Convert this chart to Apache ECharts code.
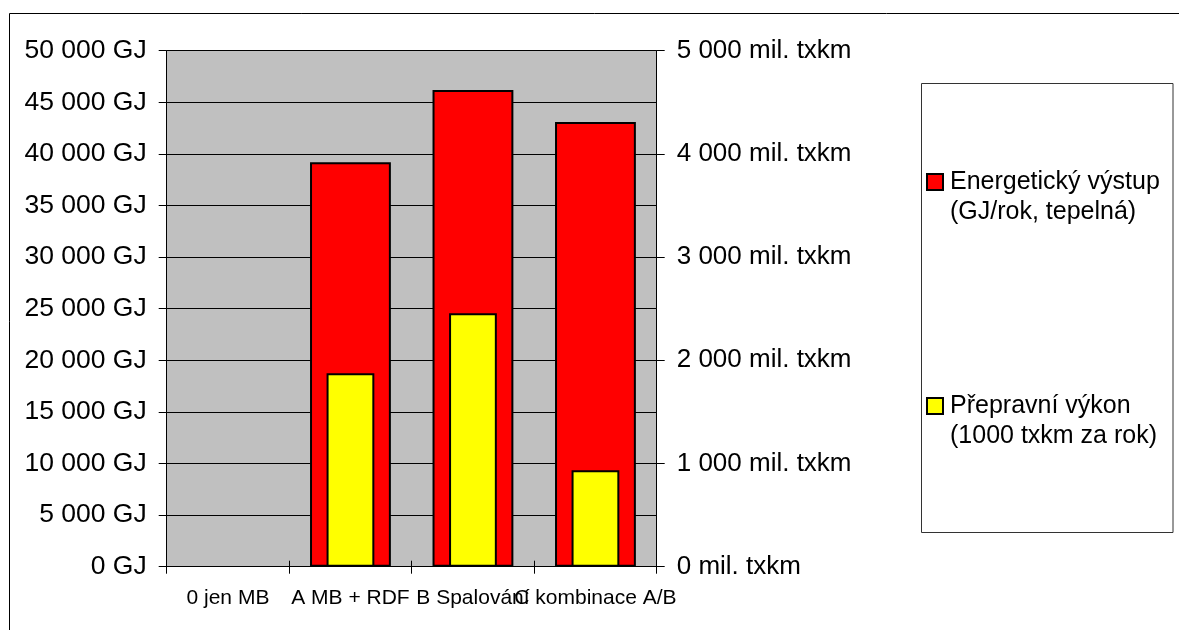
<!DOCTYPE html>
<html>
<head>
<meta charset="utf-8">
<script src="https://cdn.jsdelivr.net/npm/echarts@6/dist/echarts.min.js"></script>
<style>
html,body{margin:0;padding:0;background:#fff;}
#chart{width:1179px;height:630px;}
</style>
</head>
<body>
<div id="chart"></div>
<script>
var categories = ['0 jen MB', 'A MB + RDF', 'B Spalování', 'C kombinace A/B'];
var energyGJ = [null, 39200, 46200, 43100];
var transport = [null, 1875, 2455, 935];
var seriesNames = ['Energetický výstup\n(GJ/rok, tepelná)', 'Přepravní výkon\n(1000 txkm za rok)'];

function sep(v) {
  return String(v).replace(/\B(?=(\d{3})+(?!\d))/g, ' ');
}

var FONT = 'Liberation Sans';
var chart = echarts.init(document.getElementById('chart'), null, {renderer: 'canvas'});

chart.setOption({
  animation: false,
  backgroundColor: '#fff',
  textStyle: {fontFamily: FONT},
  grid: {
    left: 166.7, right: 522.3, top: 50.7, bottom: 63.3,
    show: true, backgroundColor: '#c0c0c0', borderWidth: 0,
    outerBoundsMode: 'none'
  },
  legend: {
    orient: 'vertical',
    left: 926, top: 137,
    padding: 0,
    itemGap: 134,
    itemWidth: 16, itemHeight: 16,
    icon: 'rect',
    selectedMode: false,
    itemStyle: {borderColor: '#000', borderWidth: 2},
    formatter: function (name) { return '\n' + name; },
    textStyle: {fontFamily: FONT, fontSize: 25, lineHeight: 30, color: '#000', padding: [0, 0, 0, 2]},
    data: seriesNames
  },
  xAxis: [{
    type: 'category',
    data: categories,
    position: 'bottom',
    axisLine: {show: true, lineStyle: {color: '#000', width: 1}},
    axisTick: {show: true, length: 7, lineStyle: {color: '#000'}},
    axisLabel: {interval: 0, hideOverlap: false, fontSize: 21, color: '#000', margin: 21, fontFamily: FONT},
    splitLine: {show: false}
  }, {
    type: 'category',
    data: categories,
    position: 'bottom',
    axisLine: {show: false},
    axisTick: {show: true, inside: true, length: 6, lineStyle: {color: '#000'}},
    axisLabel: {show: false},
    splitLine: {show: false}
  }],
  yAxis: [{
    type: 'value',
    min: 0, max: 50000, interval: 5000,
    position: 'left',
    axisLine: {show: true, lineStyle: {color: '#000', width: 1}},
    axisTick: {show: true, length: 8, lineStyle: {color: '#000'}},
    axisLabel: {fontSize: 26.5, color: '#000', margin: 20, fontFamily: FONT,
      formatter: function (v) { return sep(v) + ' GJ'; }},
    splitLine: {show: true, lineStyle: {color: '#000', width: 1}}
  }, {
    type: 'value',
    min: 0, max: 5000, interval: 1000,
    position: 'right',
    axisLine: {show: true, lineStyle: {color: '#000', width: 1}},
    axisTick: {show: true, length: 8, lineStyle: {color: '#000'}},
    axisLabel: {fontSize: 26, color: '#000', margin: 20, fontFamily: FONT,
      formatter: function (v) { return sep(v) + ' mil. txkm'; }},
    splitLine: {show: false}
  }],
  series: [{
    name: seriesNames[0],
    type: 'bar',
    xAxisIndex: 0, yAxisIndex: 0,
    barWidth: '66%',
    data: energyGJ,
    itemStyle: {color: '#ff0000', borderColor: '#000', borderWidth: 2},
    z: 2
  }, {
    name: seriesNames[1],
    type: 'bar',
    xAxisIndex: 1, yAxisIndex: 1,
    barWidth: '39%',
    data: transport,
    itemStyle: {color: '#ffff00', borderColor: '#000', borderWidth: 2},
    z: 3
  }],
  graphic: [
    {type: 'line', shape: {x1: 9.5, y1: 13.5, x2: 1179, y2: 13.5}, style: {stroke: '#000', lineWidth: 1}, silent: true},
    {type: 'line', shape: {x1: 9.5, y1: 13.5, x2: 9.5, y2: 630}, style: {stroke: '#000', lineWidth: 1}, silent: true},
    {type: 'rect', shape: {x: 921.5, y: 83.5, width: 251.5, height: 449}, style: {fill: 'none', stroke: '#333', lineWidth: 1}, silent: true, z: -1}
  ]
});
</script>
</body>
</html>
